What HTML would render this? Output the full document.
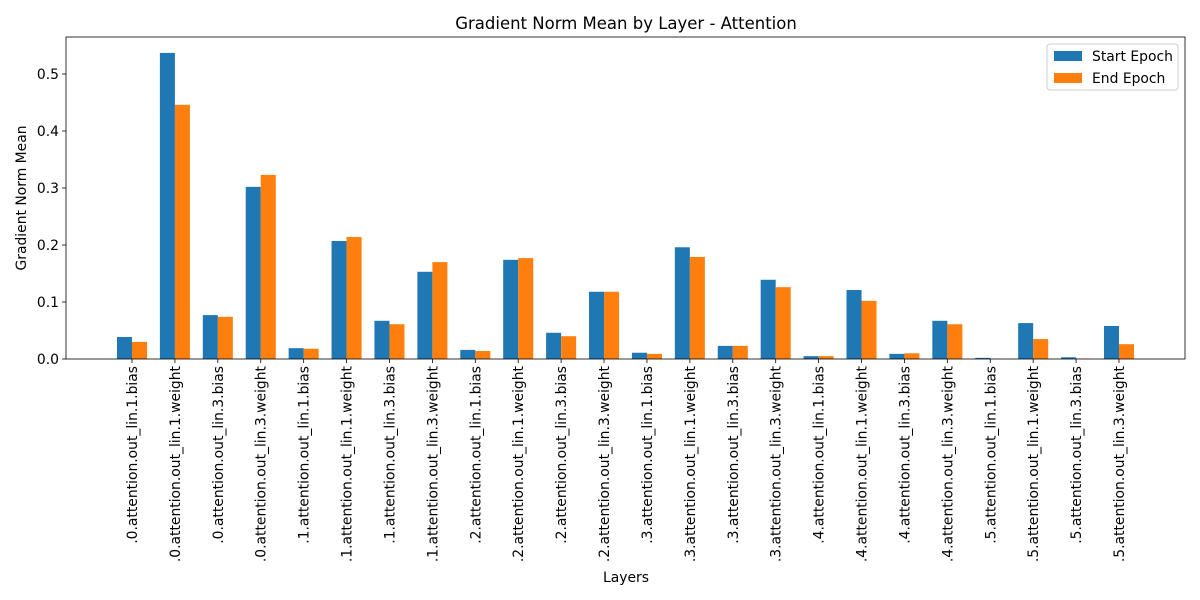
<!DOCTYPE html>
<html><head><meta charset="utf-8"><style>
body{margin:0;background:#fff}
svg{display:block;font-family:"DejaVu Sans","Liberation Sans",sans-serif}
</style></head><body>
<svg id="chart" width="1200" height="600"></svg>
<script>
const categories=[".0.attention.out_lin.1.bias",".0.attention.out_lin.1.weight",".0.attention.out_lin.3.bias",".0.attention.out_lin.3.weight",".1.attention.out_lin.1.bias",".1.attention.out_lin.1.weight",".1.attention.out_lin.3.bias",".1.attention.out_lin.3.weight",".2.attention.out_lin.1.bias",".2.attention.out_lin.1.weight",".2.attention.out_lin.3.bias",".2.attention.out_lin.3.weight",".3.attention.out_lin.1.bias",".3.attention.out_lin.1.weight",".3.attention.out_lin.3.bias",".3.attention.out_lin.3.weight",".4.attention.out_lin.1.bias",".4.attention.out_lin.1.weight",".4.attention.out_lin.3.bias",".4.attention.out_lin.3.weight",".5.attention.out_lin.1.bias",".5.attention.out_lin.1.weight",".5.attention.out_lin.3.bias",".5.attention.out_lin.3.weight"];
const startEpoch=[0.0386,0.537,0.077,0.302,0.019,0.207,0.067,0.153,0.016,0.174,0.046,0.118,0.011,0.196,0.023,0.139,0.005,0.121,0.009,0.067,0.002,0.063,0.003,0.058];
const endEpoch=[0.030,0.446,0.074,0.323,0.018,0.214,0.061,0.170,0.014,0.177,0.040,0.118,0.009,0.179,0.023,0.126,0.005,0.102,0.010,0.061,0.0005,0.035,0.0005,0.026];
const yTicks=[0,0.1,0.2,0.3,0.4,0.5];
const yTickLabels=["0.0","0.1","0.2","0.3","0.4","0.5"];

const NS="http://www.w3.org/2000/svg";
const svg=document.getElementById('chart');
const L=66,R=1185,T=37,B=359;
const yScale=v=>B-v*570;
const n=categories.length;
const step=(1119-132)/23;
const xCenter=i=>132+i*step;
const bw=step*0.35;
function mk(tag,attrs,parent){const e=document.createElementNS(NS,tag);for(const k in attrs)e.setAttribute(k,attrs[k]);(parent||svg).appendChild(e);return e;}

const title=mk('text',{x:626,y:29,'text-anchor':'middle','font-size':16.5,fill:'#000'});


title.textContent='Gradient Norm Mean by Layer - Attention';

const bars=mk('g',{});


for(let i=0;i<n;i++){
  const c=xCenter(i);
  const r1=mk('rect',{x:c-bw,y:yScale(startEpoch[i]),width:bw,height:B-yScale(startEpoch[i]),fill:'#1f77b4'},bars);
  
  
  const r2=mk('rect',{x:c,y:yScale(endEpoch[i]),width:bw,height:B-yScale(endEpoch[i]),fill:'#ff7f0e'},bars);
  
  
  mk('line',{x1:c,x2:c,y1:B,y2:B+4,stroke:'#000','stroke-width':0.8});
  const t=mk('text',{x:0,y:0,transform:`translate(${c+5},${B+7}) rotate(-90)`,'text-anchor':'end','font-size':13.9,fill:'#000'});
  
  
  t.textContent=categories[i];
}
for(let j=0;j<yTicks.length;j++){
  const y=yScale(yTicks[j]);
  mk('line',{x1:L-4,x2:L,y1:y,y2:y,stroke:'#000','stroke-width':0.8});
  const t=mk('text',{x:L-7,y:y+5,'text-anchor':'end','font-size':13.9,fill:'#000'});
  
  
  t.textContent=yTickLabels[j];
}
const frame=mk('rect',{x:L,y:T,width:R-L,height:B-T,fill:'none',stroke:'#000','stroke-width':0.8});



const xt=mk('text',{x:626,y:582,'text-anchor':'middle','font-size':13.9,fill:'#000'});


xt.textContent='Layers';
const yt=mk('text',{x:0,y:0,transform:'translate(26,198) rotate(-90)','text-anchor':'middle','font-size':13.9,fill:'#000'});


yt.textContent='Gradient Norm Mean';

const lg=mk('g',{});


mk('rect',{x:1047,y:44,width:131,height:46,rx:3,fill:'#fff',stroke:'#ccc','stroke-width':1},lg);
const entries=[['Start Epoch','#1f77b4',56],['End Epoch','#ff7f0e',78]];
entries.forEach(e=>{
  const g=mk('g',{},lg);
  
  
  mk('rect',{x:1054,y:e[2]-5,width:28,height:10,fill:e[1]},g);
  const t=mk('text',{x:1092,y:e[2]+5,'font-size':13.9,fill:'#000'},g);
  t.textContent=e[0];
});
</script>
</body></html>
